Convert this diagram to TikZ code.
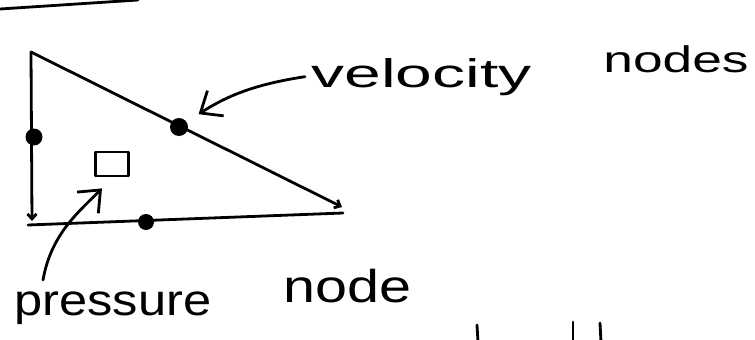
\documentclass[tikz,border=0pt]{standalone}
\usepackage{fontspec}
\setmainfont{Liberation Sans}
\usepackage{graphicx}
\usetikzlibrary{arrows.meta,positioning}

% handwritten-looking word: size, horizontal stretch, text
\newcommand{\handword}[3]{{\fontsize{#1}{#1}\selectfont\scalebox{#2}[1]{#3}}}

\begin{document}
\begin{tikzpicture}[x=1pt,y=-1pt,line width=2.8pt,line cap=round,line join=round,
    vdot/.style={circle,fill=black,inner sep=0pt,minimum size=16pt},
    pbox/.style={draw,line width=2.8pt,minimum width=33pt,minimum height=24pt,inner sep=0pt},
    word/.style={anchor=base west,inner sep=0pt},
    side/.style={-{Straight Barb[length=5pt,width=9pt]}},
    callout/.style={-{Straight Barb[length=18pt,width=30pt]}}]
  \useasboundingbox (0,0) rectangle (755,340);

  % stray stroke at the top
  \draw (0,9) -- (138,0);

  % the triangle
  \coordinate (tA) at (31,52);
  \coordinate (tB) at (32,221);
  \coordinate (tBL) at (28,225);
  \coordinate (tC) at (343,213);
  \coordinate (tH) at (342,207);
  \draw[side] (tA) -- (tB);
  \draw (tBL) -- (tC);
  \draw[side] (tA) -- (tH);

  % velocity and pressure nodes
  \node[vdot,minimum width=13pt,minimum height=17pt] (v1) at (34,137) {};
  \node[vdot,minimum size=18pt] (v2) at (179,127) {};
  \node[vdot] (v3) at (146,222) {};
  \node[pbox] (p) at (112,164) {};

  % labels
  \node[word] (vel) at (310,87) {\handword{40}{1.65}{velocity}};
  \node[word] (velnodes) at (602,72) {\handword{37}{1.44}{nodes}};
  \node[word] (pres) at (13,315) {\handword{44}{1.15}{pressure}};
  \node[word] (presnode) at (282,302) {\handword{46}{1.25}{node}};

  % pointers
  \draw[callout,shorten >=13pt] ([xshift=-5pt]vel.west) to[bend right=12] (v2);
  \coordinate (ptail) at (43,280);
  \draw[callout] (ptail) .. controls +(8,-45) and +(-25,25) .. ([xshift=-10pt,yshift=-11pt]p.south);

  % cut-off strokes at the bottom edge
  \draw (477,325) -- (478,342);
  \draw (573,322) -- (573,342);
  \draw (600,323) -- (601,342);
\end{tikzpicture}
\end{document}
